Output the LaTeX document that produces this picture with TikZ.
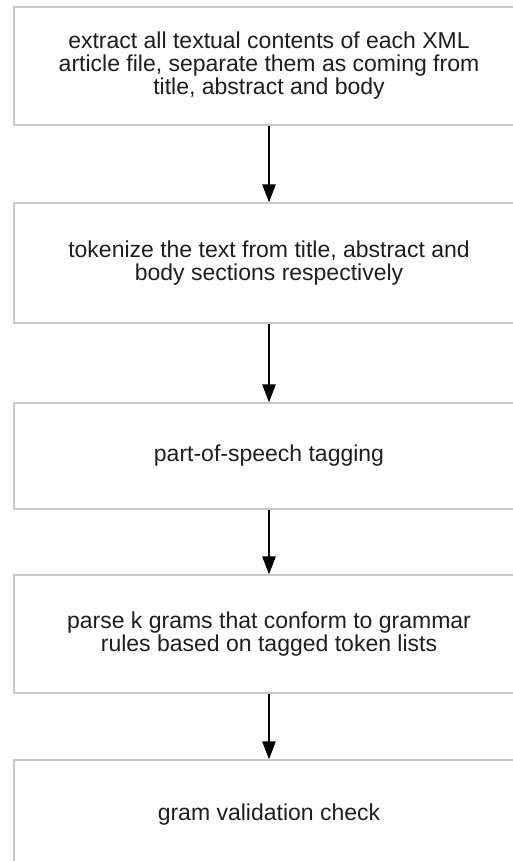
\documentclass[tikz,border=0pt]{standalone}
\usepackage{fontspec}
\setmainfont{Liberation Sans}
\usepackage{tikz}
\usetikzlibrary{arrows.meta}

\definecolor{boxline}{RGB}{200,200,200}
\definecolor{steptext}{RGB}{30,30,30}

\begin{document}
\begin{tikzpicture}[
    x = 1pt, y = -1pt,
    every node/.style = {draw = boxline, line width = 1.1pt, rectangle,
      minimum width = 510pt, align = center, text = steptext,
      font = \fontsize{23}{23}\selectfont},
    flow/.style = {line width = 2.4pt, -{Triangle[length=18pt, width=13pt]}}
  ]
  \useasboundingbox (0,0) rectangle (513,861);

  % processing steps
  \node[minimum height = 118pt] (extract) at (269,66)
    {extract all textual contents of each XML\\
     article file, separate them as coming from\\
     title, abstract and body};
  \node[minimum height = 120pt] (tokenize) at (269,263)
    {tokenize the text from title, abstract and\\
     body sections respectively};
  \node[minimum height = 106pt] (postag) at (269,456)
    {part-of-speech tagging};
  \node[minimum height = 118pt] (parse) at (269,634)
    {parse k grams that conform to grammar\\
     rules based on tagged token lists};
  \node[minimum height = 110pt] (validate) at (269,815)
    {gram validation check};

  % arrows
  \draw[flow] (extract)  -- (tokenize);
  \draw[flow] (tokenize) -- (postag);
  \draw[flow] (postag)   -- (parse);
  \draw[flow] (parse)    -- (validate);

\end{tikzpicture}
\end{document}
